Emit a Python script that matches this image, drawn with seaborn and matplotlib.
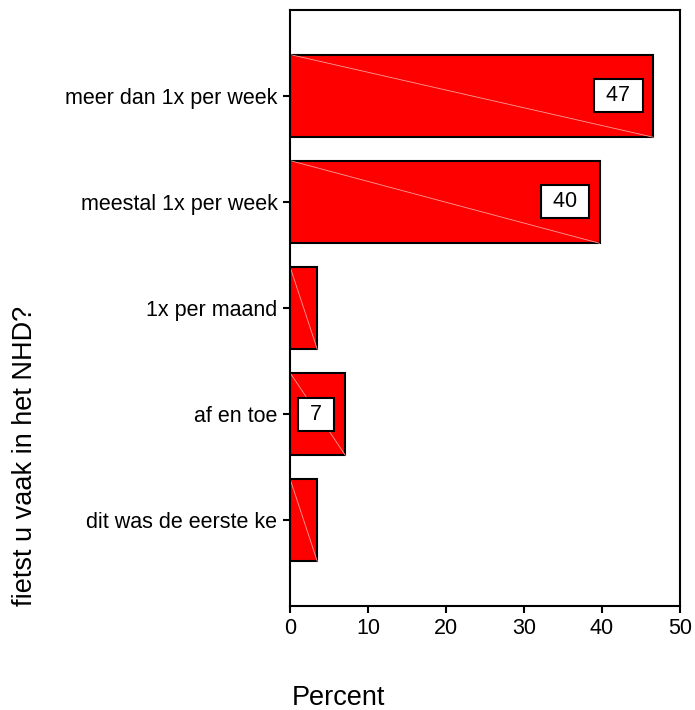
import matplotlib
matplotlib.use("Agg")
import matplotlib.pyplot as plt
import pandas as pd
import seaborn as sns

CATEGORIES = [
    "meer dan 1x per week",
    "meestal 1x per week",
    "1x per maand",
    "af en toe",
    "dit was de eerste ke",
]
PERCENT = [46.6, 39.7, 3.5, 7.1, 3.5]
X_TICKS = [0, 10, 20, 30, 40, 50]
Y_LABEL = "fietst u vaak in het NHD?"
X_LABEL = "Percent"

sns.set_style("ticks")
plt.rcParams["font.family"] = ["Liberation Sans", "DejaVu Sans"]
plt.rcParams["text.color"] = "black"
plt.rcParams["axes.linewidth"] = 1.5
plt.rcParams["xtick.major.width"] = 1.5
plt.rcParams["ytick.major.width"] = 1.5
plt.rcParams["xtick.major.size"] = 5
plt.rcParams["ytick.major.size"] = 5

data = pd.DataFrame({"category": CATEGORIES, "percent": PERCENT})

fig = plt.figure(figsize=(6.95, 7.1), dpi=100)
ax = fig.add_axes([290 / 695, 1 - 606 / 710, 390 / 695, 596 / 710])

sns.barplot(
    data=data,
    x="percent",
    y="category",
    orient="h",
    color="#ff0000",
    saturation=1,
    edgecolor="black",
    linewidth=1.5,
    width=0.78,
    ax=ax,
)

# faint diagonal inside each bar, as in the SPSS export
for patch in ax.patches:
    x0, y0 = patch.get_x(), patch.get_y()
    ax.plot(
        [x0, x0 + patch.get_width()],
        [y0, y0 + patch.get_height()],
        color="#ff9c9c",
        lw=0.6,
        zorder=patch.get_zorder() + 0.1,
    )

# value labels only where they fit inside the bar
for i, value in enumerate(PERCENT):
    if value < 5:
        continue
    ax.annotate(
        f" {value:.0f} ",
        xy=(value, i),
        xytext=(-17, 0),
        textcoords="offset pixels",
        ha="right",
        va="center",
        fontsize=15.5,
        color="black",
        zorder=5,
        bbox=dict(boxstyle="square,pad=0.28", fc="white", ec="black", lw=1.5),
    )

ax.set_xlim(0, 50)
ax.set_ylim(4.81, -0.81)
ax.set_xticks(X_TICKS)
ax.tick_params(axis="both", labelsize=15.5, pad=4, colors="black")
ax.set_xlabel("")
ax.set_ylabel("")
for spine in ax.spines.values():
    spine.set_visible(True)
    spine.set_color("black")

fig.text(25 / 695, 1 - 456 / 710, Y_LABEL, rotation=90, ha="center",
         va="center", fontsize=19.5, color="black")
fig.text(338 / 695, 1 - 705 / 710, X_LABEL, ha="center", va="baseline",
         fontsize=19.5, color="black")

fig.savefig("out.png", dpi=100, facecolor="white")
